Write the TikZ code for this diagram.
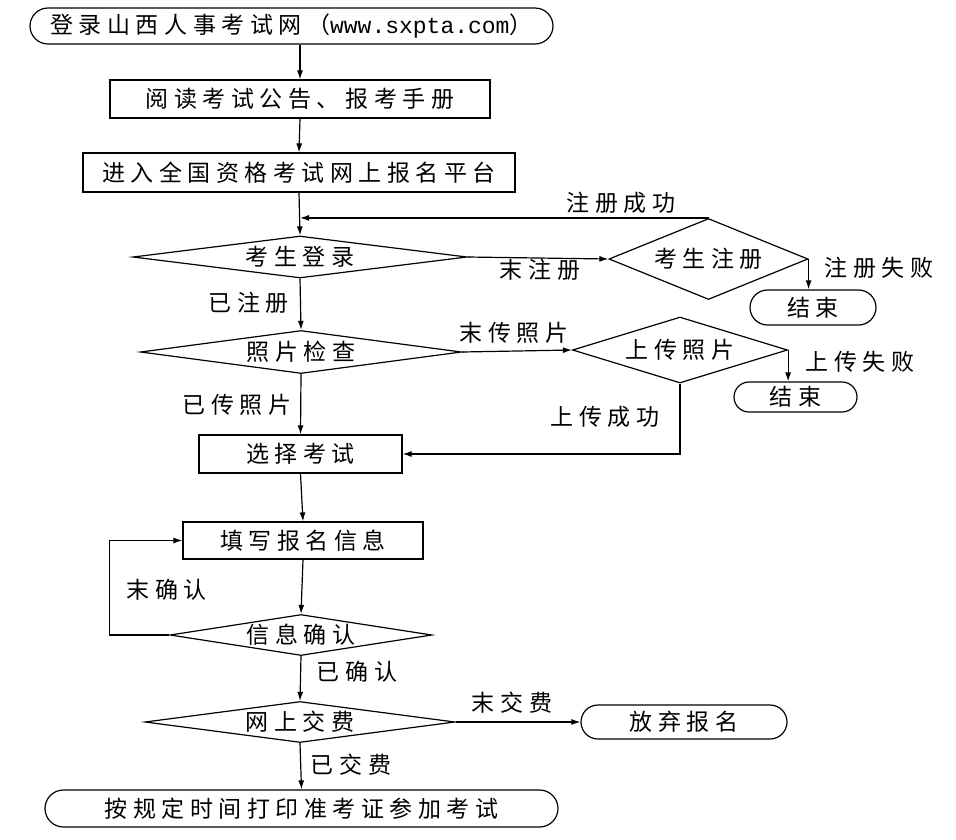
\documentclass[tikz,border=0pt]{standalone}
\usepackage{fontspec}
\setmainfont{Noto Sans CJK SC}[LetterSpace=24]
\newfontfamily\urlfont{Liberation Mono}
\usetikzlibrary{shapes.geometric,shapes.misc,arrows.meta}

\tikzset{
  every node/.style={font=\fontsize{23}{27}\selectfont},
  stepbox/.style={draw,rectangle,inner sep=0pt},
  endbox/.style={draw,rounded rectangle,inner sep=0pt},
  decide/.style={draw,diamond,inner sep=-4pt,aspect=6.5},
  lbl/.style={inner sep=0pt},
  arr/.style={-{Latex[length=9pt,width=6pt]}},
}

\begin{document}
\begin{tikzpicture}[x=1pt,y=-1pt,line width=1.2pt]
\useasboundingbox (0,0) rectangle (956,839);

% main column
\node[endbox,minimum width=523,minimum height=36] (site) at (291.5,26) {登录山西人事考试网（{\urlfont www.sxpta.com}）};
\node[stepbox,minimum width=380,minimum height=38] (notice) at (300,99) {阅读考试公告、报考手册};
\node[stepbox,minimum width=432,minimum height=39] (portal) at (299,172.5) {进入全国资格考试网上报名平台};
\node[decide,minimum width=334,minimum height=42] (login) at (300,257) {考生登录};
\node[decide,minimum width=321,minimum height=43] (photo) at (301,352) {照片检查};
\node[stepbox,minimum width=203,minimum height=38] (choose) at (300.5,454) {选择考试};
\node[stepbox,minimum width=240,minimum height=37] (fill) at (303,540.5) {填写报名信息};
\node[decide,minimum width=262,minimum height=41] (confirm) at (301,635) {信息确认};
\node[decide,minimum width=310,minimum height=41] (pay) at (300,722) {网上交费};
\node[endbox,minimum width=513,minimum height=37] (print) at (301.5,808.5) {按规定时间打印准考证参加考试};

% side branches
\node[decide,aspect=3,minimum width=199,minimum height=81] (reg) at (708.5,259) {考生注册};
\node[endbox,minimum width=126,minimum height=35] (regend) at (813,307.5) {结束};
\node[decide,aspect=3.3,minimum width=215,minimum height=66] (upload) at (680,350) {上传照片};
\node[endbox,minimum width=123,minimum height=30] (upend) at (795.5,397) {结束};
\node[endbox,minimum width=206,minimum height=34] (quit) at (684,722) {放弃报名};

% labels
\node[lbl] (regok) at (621,203) {注册成功};
\node[lbl] (regno) at (540,270) {末注册};
\node[lbl] (regfail) at (879,268) {注册失败};
\node[lbl] (regyes) at (249,303) {已注册};
\node[lbl] (photono) at (514,333) {末传照片};
\node[lbl] (upfail) at (860,362) {上传失败};
\node[lbl] (photoyes) at (237,405) {已传照片};
\node[lbl] (upok) at (605,417) {上传成功};
\node[lbl] (confno) at (167,590) {末确认};
\node[lbl] (confyes) at (357,672) {已确认};
\node[lbl] (payno) at (512,703) {末交费};
\node[lbl] (payyes) at (351,765) {已交费};

% connectors
\draw[arr] (notice.north |- site.south) -- (notice.north);
\draw[arr] (notice.south) -- (portal.north);
\draw[arr] (portal.south) -- (login.north);
\draw[arr] (reg.north) -- (login.north |- reg.north);
\draw[arr] (login.east) -- (reg.west);
\draw[arr] (reg.east) -- (reg.east |- regend.north);
\draw[arr] (login.south) -- (photo.north);
\draw[arr] (photo.east) -- (upload.west);
\draw[arr] (upload.east) -- (upload.east |- upend.north);
\draw[arr] (upload.south) |- (choose.east);
\draw[arr] (photo.south) -- (choose.north);
\draw[arr] (choose.south) -- (fill.north);
\draw[arr] (fill.south) -- (confirm.north);
\draw[arr] (confirm.west) -- ++(-60,0) |- (fill.west);
\draw[arr] (confirm.south) -- (pay.north);
\draw[arr] (pay.east) -- (quit.west);
\draw[arr] (pay.south) -- (print.north);
\end{tikzpicture}
\end{document}
